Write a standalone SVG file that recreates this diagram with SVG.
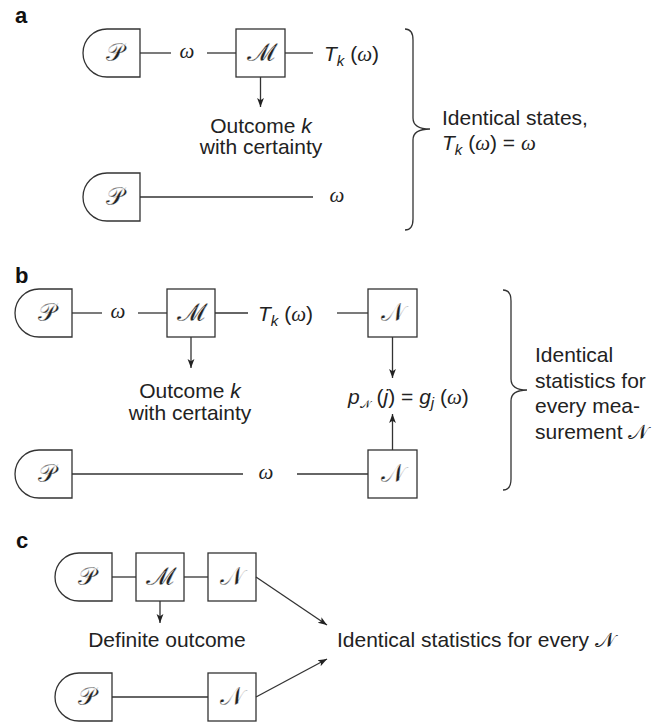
<svg xmlns="http://www.w3.org/2000/svg" width="662" height="722" viewBox="0 0 662 722">
<defs>
<marker id="ah" viewBox="0 0 10 10" refX="10" refY="5" markerWidth="9" markerHeight="9" markerUnits="userSpaceOnUse" orient="auto"><path d="M0,1.2 L10,5 L0,8.8 L2.5,5 Z" fill="#222"/></marker>
</defs>
<style>
.box{fill:#fff;stroke:#333;stroke-width:1.3}
.ln{fill:none;stroke:#333;stroke-width:1.3}
.ar{fill:none;stroke:#333;stroke-width:1.3;marker-end:url(#ah)}
.t{font-family:"Liberation Sans",Arial,sans-serif;font-size:21px;fill:#222}
.mid{text-anchor:middle}
.lab{font-family:"Liberation Sans",Arial,sans-serif;font-size:22px;font-weight:bold;fill:#111}
.sc{font-family:"DejaVu Serif","DejaVu Sans",serif;font-size:25px;fill:#222;text-anchor:middle;stroke:#fff;stroke-width:0.3}
.scs{font-family:"DejaVu Serif","DejaVu Sans",serif}
.w{font-family:"Liberation Serif",serif;font-style:italic}
.i{font-style:italic}
.sub{font-size:15px}
</style>
<rect width="662" height="722" fill="#fff"/>

<!-- Panel a -->
<text class="lab" x="15" y="23">a</text>
<g id="a-P1"><path class="box" d="M140,29 H107 A24,24 0 0 0 107,77 H140 Z"/><text class="sc" x="115" y="61">𝒫</text></g>
<g id="a-M1"><rect class="box" x="236" y="29" width="49" height="48"/><text class="sc" x="260.5" y="61">𝓜</text></g>
<g id="a-P2"><path class="box" d="M140,173 H107 A24,24 0 0 0 107,221 H140 Z"/><text class="sc" x="115" y="205">𝒫</text></g>
<g id="a-connectors">
<line class="ln" x1="140" y1="53" x2="171" y2="53"/>
<line class="ln" x1="207" y1="53" x2="236" y2="53"/>
<line class="ln" x1="285" y1="53" x2="313" y2="53"/>
<line class="ar" x1="260.5" y1="77" x2="260.5" y2="107"/>
<line class="ln" x1="140" y1="197" x2="313" y2="197"/>
</g>
<g id="a-labels">
<text class="t w mid" x="187" y="58">ω</text>
<text class="t" x="324" y="61"><tspan class="i">T</tspan><tspan class="i sub" dy="5">k</tspan><tspan dy="-5"> (</tspan><tspan class="w">ω</tspan>)</text>
<text class="t w mid" x="337" y="202">ω</text>
<text class="t mid" x="261" y="133">Outcome <tspan class="i">k</tspan></text>
<text class="t mid" x="261" y="154">with certainty</text>
<path class="ln" d="M405,29 Q413,29 413,40 V118 Q413,129 430,129 Q413,129 413,140 V219 Q413,230 405,230"/>
<text class="t" x="442" y="125">Identical states,</text>
<text class="t" x="442" y="150"><tspan class="i">T</tspan><tspan class="i sub" dy="5">k</tspan><tspan dy="-5"> (</tspan><tspan class="w">ω</tspan>) = <tspan class="w">ω</tspan></text>
</g>

<!-- Panel b -->
<text class="lab" x="15" y="283">b</text>
<g id="b-P1"><path class="box" d="M72,289 H39 A24,24 0 0 0 39,337 H72 Z"/><text class="sc" x="47" y="321">𝒫</text></g>
<g id="b-M1"><rect class="box" x="167" y="289" width="48" height="48"/><text class="sc" x="191" y="321">𝓜</text></g>
<g id="b-N1"><rect class="box" x="368" y="289" width="49" height="48"/><text class="sc" x="392.5" y="321">𝒩</text></g>
<g id="b-P2"><path class="box" d="M72,450 H39 A24,24 0 0 0 39,498 H72 Z"/><text class="sc" x="47" y="482">𝒫</text></g>
<g id="b-N2"><rect class="box" x="368" y="450" width="49" height="48"/><text class="sc" x="392.5" y="482">𝒩</text></g>
<g id="b-connectors">
<line class="ln" x1="72" y1="313" x2="102" y2="313"/>
<line class="ln" x1="138" y1="313" x2="167" y2="313"/>
<line class="ln" x1="215" y1="313" x2="248" y2="313"/>
<line class="ln" x1="337" y1="313" x2="368" y2="313"/>
<line class="ar" x1="191" y1="337" x2="191" y2="368"/>
<line class="ar" x1="392.5" y1="337" x2="392.5" y2="378"/>
<line class="ar" x1="392.5" y1="450" x2="392.5" y2="414"/>
<line class="ln" x1="72" y1="474" x2="243" y2="474"/>
<line class="ln" x1="297" y1="474" x2="368" y2="474"/>
</g>
<g id="b-labels">
<text class="t w mid" x="118" y="318">ω</text>
<text class="t" x="258" y="321"><tspan class="i">T</tspan><tspan class="i sub" dy="5">k</tspan><tspan dy="-5"> (</tspan><tspan class="w">ω</tspan>)</text>
<text class="t w mid" x="266" y="479">ω</text>
<text class="t mid" x="190" y="398">Outcome <tspan class="i">k</tspan></text>
<text class="t mid" x="190" y="420">with certainty</text>
<text class="t" x="348" y="404"><tspan class="i">p</tspan><tspan class="scs" style="font-size:11px" dy="4">𝒩</tspan><tspan dy="-4"> (</tspan><tspan class="i">j</tspan>) = <tspan class="i">g</tspan><tspan class="i sub" dy="4">j</tspan><tspan dy="-4"> (</tspan><tspan class="w">ω</tspan>)</text>
<path class="ln" d="M503,290 Q511,290 511,301 V379 Q511,390 527,390 Q511,390 511,401 V479 Q511,490 503,490"/>
<text class="t" x="535" y="362">Identical</text>
<text class="t" x="535" y="388">statistics for</text>
<text class="t" x="535" y="413">every mea-</text>
<text class="t" x="535" y="439">surement <tspan class="scs">𝒩</tspan></text>
</g>

<!-- Panel c -->
<text class="lab" x="16" y="548">c</text>
<g id="c-P1"><path class="box" d="M112,553 H79 A24,24 0 0 0 79,601 H112 Z"/><text class="sc" x="87" y="585">𝒫</text></g>
<g id="c-M1"><rect class="box" x="136" y="553" width="48" height="48"/><text class="sc" x="160" y="585">𝓜</text></g>
<g id="c-N1"><rect class="box" x="208" y="553" width="48" height="48"/><text class="sc" x="232" y="585">𝒩</text></g>
<g id="c-P2"><path class="box" d="M112,673 H79 A24,24 0 0 0 79,721 H112 Z"/><text class="sc" x="87" y="705">𝒫</text></g>
<g id="c-N2"><rect class="box" x="208" y="673" width="48" height="48"/><text class="sc" x="232" y="705">𝒩</text></g>
<g id="c-connectors">
<line class="ln" x1="112" y1="577" x2="136" y2="577"/>
<line class="ln" x1="184" y1="577" x2="208" y2="577"/>
<line class="ar" x1="160" y1="601" x2="160" y2="623"/>
<line class="ln" x1="112" y1="697" x2="208" y2="697"/>
<line class="ar" x1="256" y1="577" x2="327" y2="625"/>
<line class="ar" x1="256" y1="697" x2="327" y2="659"/>
</g>
<g id="c-labels">
<text class="t mid" x="167" y="647">Definite outcome</text>
<text class="t" x="337" y="647">Identical statistics for every <tspan class="scs">𝒩</tspan></text>
</g>
</svg>
